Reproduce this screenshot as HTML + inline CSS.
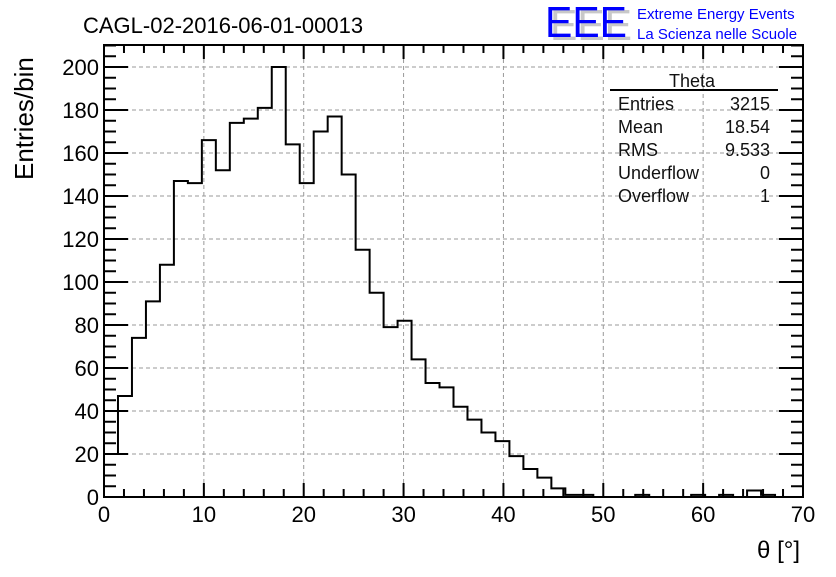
<!DOCTYPE html>
<html><head><meta charset="utf-8"><style>
body{margin:0;background:#fff;}
svg text{font-family:"Liberation Sans",sans-serif;}
</style></head><body>
<svg id="chart" width="836" height="572" viewBox="0 0 836 572" xmlns="http://www.w3.org/2000/svg">
<rect width="836" height="572" fill="#fff"/>
<g id="grid"></g>
<g id="ticks"></g>
<path id="hist" fill="none" stroke="#000" stroke-width="2"/>
<rect x="104" y="45" width="699" height="452" fill="none" stroke="#000" stroke-width="2"/>
<g id="labels" font-size="22"></g>
<text x="83" y="33" font-size="22">CAGL-02-2016-06-01-00013</text>
<text x="800" y="558" font-size="24" text-anchor="end">θ [°]</text>
<text transform="translate(33,180) rotate(-90)" font-size="26">Entries/bin</text>
<g>
<text x="550" y="40" font-size="44" fill="#c8c8c8" textLength="82" lengthAdjust="spacingAndGlyphs">EEE</text>
<text x="545" y="37" font-size="44" fill="#0000ff" textLength="82" lengthAdjust="spacingAndGlyphs">EEE</text>
<text x="637" y="19" font-size="15" fill="#0000ff">Extreme Energy Events</text>
<text x="637" y="39" font-size="15" fill="#0000ff">La Scienza nelle Scuole</text>
</g>
<g font-size="18" fill="#111">
<text x="692" y="87" text-anchor="middle">Theta</text>
<line x1="610" y1="90" x2="778" y2="90" stroke="#000" stroke-width="2"/>
<text x="618" y="110">Entries</text><text x="770" y="110" text-anchor="end">3215</text>
<text x="618" y="133">Mean</text><text x="770" y="133" text-anchor="end">18.54</text>
<text x="618" y="156">RMS</text><text x="770" y="156" text-anchor="end">9.533</text>
<text x="618" y="179">Underflow</text><text x="770" y="179" text-anchor="end">0</text>
<text x="618" y="202">Overflow</text><text x="770" y="202" text-anchor="end">1</text>
</g>
</svg>
<script>
const counts=[20,47,74,91,108,147,146,166,152,174,176,181,200,164,146,170,177,150,115,95,79,82,64,53,51,42,36,30,26,19,13,9,4,1,1,0,0,0,1,0,0,0,1,0,1,0,3,1,0,0];
const binWidth=1.4;
const xTicks=[0,10,20,30,40,50,60,70];
const yTicks=[0,20,40,60,80,100,120,140,160,180,200];
const NS="http://www.w3.org/2000/svg";
const X0=104,X1=803,Y0=497,Y1=45,XMAX=70,YMAX=(497-45)/2.15;
const sx=v=>X0+v*(X1-X0)/XMAX;
const sy=v=>Y0-v*(Y0-Y1)/YMAX;
function mk(parent,tag,attrs){const e=document.createElementNS(NS,tag);for(const k in attrs)e.setAttribute(k,attrs[k]);parent.appendChild(e);return e;}
const grid=document.getElementById('grid'),ticks=document.getElementById('ticks'),labels=document.getElementById('labels');
xTicks.forEach(t=>{
  if(t>0&&t<XMAX){const l=mk(grid,'line',{x1:sx(t),x2:sx(t),y1:Y0,y2:Y1,stroke:'#999','stroke-dasharray':'4,3'});
  
  }
  const tx=mk(labels,'text',{x:sx(t),y:Y0+25,'text-anchor':'middle'});tx.textContent=t;
  
  
});
yTicks.forEach(t=>{
  if(t>0){const l=mk(grid,'line',{x1:X0,x2:X1,y1:sy(t),y2:sy(t),stroke:'#999','stroke-dasharray':'4,3'});
  
  }
  const tx=mk(labels,'text',{x:X0-5,y:sy(t)+8,'text-anchor':'end'});tx.textContent=t;
  
  
});
for(let v=0;v<=XMAX;v+=2){const L=(v%10===0)?14:8;
  mk(ticks,'line',{x1:sx(v),x2:sx(v),y1:Y0,y2:Y0-L,stroke:'#000','stroke-width':2});
  mk(ticks,'line',{x1:sx(v),x2:sx(v),y1:Y1,y2:Y1+L,stroke:'#000','stroke-width':2});}
for(let v=0;v<=YMAX;v+=5){const L=(v%20===0)?24:12;
  mk(ticks,'line',{x1:X0,x2:X0+L,y1:sy(v),y2:sy(v),stroke:'#000','stroke-width':2});
  mk(ticks,'line',{x1:X1,x2:X1-L,y1:sy(v),y2:sy(v),stroke:'#000','stroke-width':2});}
let d='M'+sx(0)+','+sy(0);
counts.forEach((c,i)=>{d+=' L'+sx(i*binWidth)+','+sy(c)+' L'+sx((i+1)*binWidth)+','+sy(c);});
document.getElementById('hist').setAttribute('d',d);
</script>
</body></html>
